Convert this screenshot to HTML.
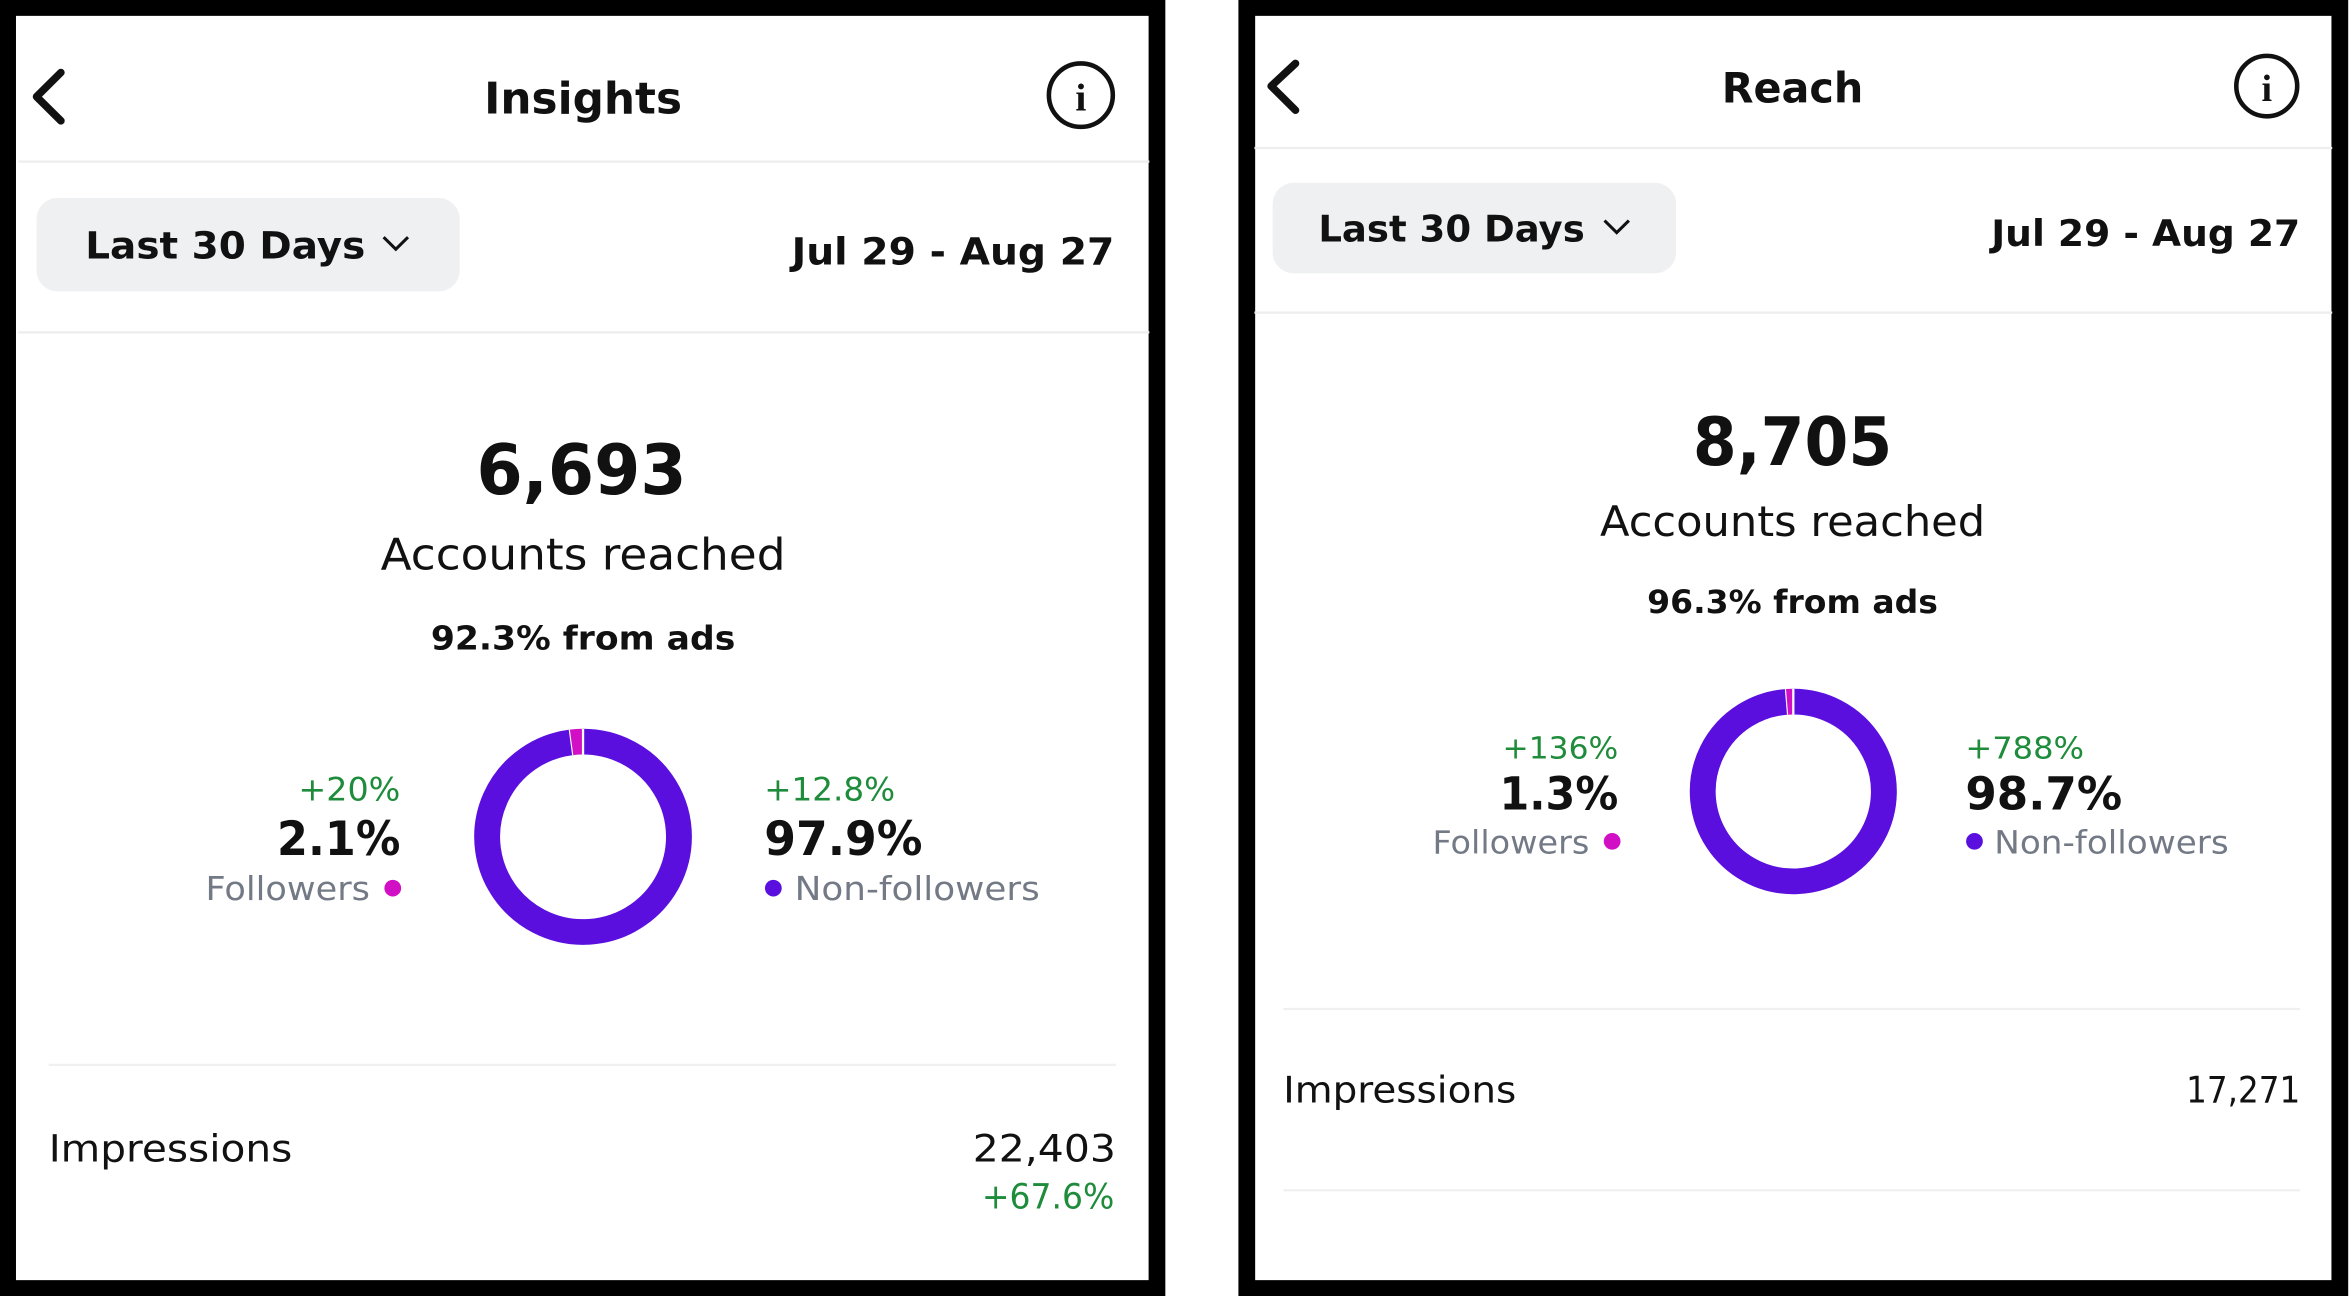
<!DOCTYPE html>
<html><head><meta charset="utf-8"><style>
html,body{margin:0;padding:0;background:#fff;}
svg{display:block;font-family:"DejaVu Sans","Liberation Sans",Arial,sans-serif;}
</style></head><body>
<svg id="s" width="2352" height="1296" viewBox="0 0 1545 858" preserveAspectRatio="none" xmlns="http://www.w3.org/2000/svg">
<rect width="1545" height="858" fill="#fff"/>
<!-- LEFT PANEL -->
<g>
<rect x="5" y="5" width="755" height="848" fill="#fff" stroke="#000" stroke-width="11"/>
<path d="M40 48 L24 64 L40 80" fill="none" stroke="#111" stroke-width="5" stroke-linecap="round" stroke-linejoin="round"/>
<text x="318" y="75" font-size="29" font-weight="bold" fill="#111" textLength="130" lengthAdjust="spacingAndGlyphs">Insights</text>
<g><circle cx="710" cy="63" r="21" fill="none" stroke="#111" stroke-width="3"/><text x="710" y="73" text-anchor="middle" font-size="26" font-weight="bold" font-family="Liberation Serif,serif" fill="#111">i</text></g>
<line x1="12" y1="107" x2="755" y2="107" stroke="#eee" stroke-width="1.5"/>
<g><rect x="24" y="131" width="278" height="62" rx="14" fill="#eff0f2"/>
<text x="56" y="171" font-size="25" font-weight="bold" fill="#111" textLength="184" lengthAdjust="spacingAndGlyphs">Last 30 Days</text>
<path d="M252 157 L260 165 L268 157" fill="none" stroke="#111" stroke-width="2"/></g>
<text x="520" y="175" font-size="25" font-weight="bold" fill="#111" textLength="212" lengthAdjust="spacingAndGlyphs">Jul 29 - Aug 27</text>
<line x1="12" y1="220" x2="755" y2="220" stroke="#eee" stroke-width="1.5"/>
<text x="313" y="327" font-size="46" font-weight="bold" fill="#111" textLength="138" lengthAdjust="spacingAndGlyphs">6,693</text>
<text x="250" y="377" font-size="29" fill="#111" textLength="266" lengthAdjust="spacingAndGlyphs">Accounts reached</text>
<text x="283" y="430" font-size="22" font-weight="bold" fill="#111" textLength="200" lengthAdjust="spacingAndGlyphs">92.3% from ads</text>
<g id="donutL"></g>
<text x="196" y="530" font-size="21" fill="#1f8c3c" textLength="67" lengthAdjust="spacingAndGlyphs">+20%</text>
<text x="182" y="566" font-size="31" font-weight="bold" fill="#111" textLength="81" lengthAdjust="spacingAndGlyphs">2.1%</text>
<text x="135" y="596" font-size="22" fill="#737a86" textLength="108" lengthAdjust="spacingAndGlyphs">Followers</text>
<circle cx="258" cy="588" r="5.5" fill="#d10fc4"/>
<text x="502" y="530" font-size="21" fill="#1f8c3c" textLength="86" lengthAdjust="spacingAndGlyphs">+12.8%</text>
<text x="502" y="566" font-size="31" font-weight="bold" fill="#111" textLength="104" lengthAdjust="spacingAndGlyphs">97.9%</text>
<circle cx="508" cy="588" r="5.5" fill="#5a0fdf"/>
<text x="522" y="596" font-size="22" fill="#737a86" textLength="161" lengthAdjust="spacingAndGlyphs">Non-followers</text>
<line x1="32" y1="705" x2="733" y2="705" stroke="#f0f0f0" stroke-width="1.5"/>
<text x="32" y="769" font-size="25" fill="#111" textLength="160" lengthAdjust="spacingAndGlyphs">Impressions</text>
<text x="639" y="769" font-size="25" fill="#111" textLength="94" lengthAdjust="spacingAndGlyphs">22,403</text>
<text x="645" y="800" font-size="23" fill="#1f8c3c" textLength="87" lengthAdjust="spacingAndGlyphs">+67.6%</text>
</g>
<!-- RIGHT PANEL -->
<g>
<rect x="819" y="5" width="718" height="848" fill="#fff" stroke="#000" stroke-width="11"/>
<path d="M851 42 L835 57 L851 73" fill="none" stroke="#111" stroke-width="5" stroke-linecap="round" stroke-linejoin="round"/>
<text x="1131" y="68" font-size="28" font-weight="bold" fill="#111" textLength="93" lengthAdjust="spacingAndGlyphs">Reach</text>
<g><circle cx="1489" cy="57" r="20" fill="none" stroke="#111" stroke-width="3"/><text x="1489" y="67" text-anchor="middle" font-size="25" font-weight="bold" font-family="Liberation Serif,serif" fill="#111">i</text></g>
<line x1="824" y1="98" x2="1532" y2="98" stroke="#eee" stroke-width="1.5"/>
<g><rect x="836" y="121" width="265" height="60" rx="14" fill="#eff0f2"/>
<text x="866" y="160" font-size="24" font-weight="bold" fill="#111" textLength="175" lengthAdjust="spacingAndGlyphs">Last 30 Days</text>
<path d="M1054 146 L1062 154 L1070 146" fill="none" stroke="#111" stroke-width="2"/></g>
<text x="1308" y="163" font-size="24" font-weight="bold" fill="#111" textLength="203" lengthAdjust="spacingAndGlyphs">Jul 29 - Aug 27</text>
<line x1="824" y1="207" x2="1532" y2="207" stroke="#eee" stroke-width="1.5"/>
<text x="1112" y="308" font-size="44" font-weight="bold" fill="#111" textLength="131" lengthAdjust="spacingAndGlyphs">8,705</text>
<text x="1051" y="355" font-size="28" fill="#111" textLength="253" lengthAdjust="spacingAndGlyphs">Accounts reached</text>
<text x="1082" y="406" font-size="21" font-weight="bold" fill="#111" textLength="191" lengthAdjust="spacingAndGlyphs">96.3% from ads</text>
<g id="donutR"></g>
<text x="987" y="502" font-size="20" fill="#1f8c3c" textLength="76" lengthAdjust="spacingAndGlyphs">+136%</text>
<text x="985" y="536" font-size="30" font-weight="bold" fill="#111" textLength="78" lengthAdjust="spacingAndGlyphs">1.3%</text>
<text x="941" y="565" font-size="21" fill="#737a86" textLength="103" lengthAdjust="spacingAndGlyphs">Followers</text>
<circle cx="1059" cy="557" r="5.5" fill="#d10fc4"/>
<text x="1291" y="502" font-size="20" fill="#1f8c3c" textLength="78" lengthAdjust="spacingAndGlyphs">+788%</text>
<text x="1291" y="536" font-size="30" font-weight="bold" fill="#111" textLength="103" lengthAdjust="spacingAndGlyphs">98.7%</text>
<circle cx="1297" cy="557" r="5.5" fill="#5a0fdf"/>
<text x="1310" y="565" font-size="21" fill="#737a86" textLength="154" lengthAdjust="spacingAndGlyphs">Non-followers</text>
<line x1="843" y1="668" x2="1511" y2="668" stroke="#f0f0f0" stroke-width="1.5"/>
<text x="843" y="730" font-size="24" fill="#111" textLength="153" lengthAdjust="spacingAndGlyphs">Impressions</text>
<text x="1436" y="730" font-size="24" fill="#111" textLength="75" lengthAdjust="spacingAndGlyphs">17,271</text>
<line x1="843" y1="788" x2="1511" y2="788" stroke="#f0f0f0" stroke-width="1.5"/>
</g>
</svg>
<script>
const donutLabels = ["Followers", "Non-followers"];
const leftShares = [2.1, 97.9];
const rightShares = [1.3, 98.7];
const donutColors = ["#d10fc4", "#5a0fdf"];
const NS = "http://www.w3.org/2000/svg";
function pt(cx, cy, r, a){ const t=(a-90)*Math.PI/180; return [cx+r*Math.cos(t), cy+r*Math.sin(t)]; }
function drawDonut(gid, shares, cx, cy, r, w){
  const g=document.getElementById(gid);
  const total=shares.reduce((a,b)=>a+b,0);
  let start=-shares[0]/total*360;
  shares.forEach((v,i)=>{
    const sweep=v/total*360;
    const a0=start, a1=start+sweep;
    const p0=pt(cx,cy,r,a0), p1=pt(cx,cy,r,a1);
    const path=document.createElementNS(NS,"path");
    path.setAttribute("d","M"+p0[0]+" "+p0[1]+" A"+r+" "+r+" 0 "+(sweep>180?1:0)+" 1 "+p1[0]+" "+p1[1]);
    path.setAttribute("fill","none");
    path.setAttribute("stroke",donutColors[i]);
    path.setAttribute("stroke-width",w);
    
    
    g.appendChild(path);
    const gi=pt(cx,cy,r-w/2,a0), go=pt(cx,cy,r+w/2,a0);
    const gap=document.createElementNS(NS,"line");
    gap.setAttribute("x1",gi[0]);gap.setAttribute("y1",gi[1]);gap.setAttribute("x2",go[0]);gap.setAttribute("y2",go[1]);
    gap.setAttribute("stroke","#fff");gap.setAttribute("stroke-width","1.5");
    
    
    g.appendChild(gap);
    start=a1;
  });
}
drawDonut("donutL", leftShares, 383, 554, 63, 17);
drawDonut("donutR", rightShares, 1178, 524, 59.5, 17);
</script>
</body></html>
